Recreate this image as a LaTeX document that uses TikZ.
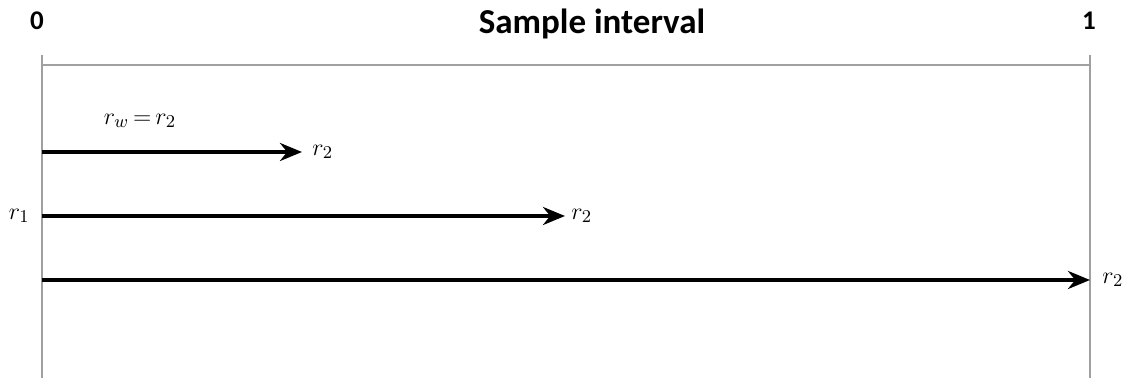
\documentclass[tikz,border=0pt]{standalone}
\usepackage{amsmath}
\usepackage{fontspec}
\setsansfont{Carlito}
\usepackage{tikz}
\usetikzlibrary{positioning, arrows.meta}
\tikzstyle{arrow} = [line width=2pt,-{Stealth[length=11pt,width=9pt]}]
\tikzstyle{frame} = [line width=0.8pt,draw={rgb,255:red,160;green,160;blue,160}]
\tikzstyle{lbl} = [font=\fontsize{13}{15}\selectfont]

\begin{document}
\begin{tikzpicture}[x=0.5pt, y=-0.5pt, every node/.style={inner sep=0pt}]
  \useasboundingbox (0,0) rectangle (1130,378);

  % Interval frame
  \coordinate (lt) at (42,55);
  \coordinate (lb) at (42,378);
  \coordinate (rt) at (1090,55);
  \coordinate (rb) at (1090,378);
  \coordinate (hl) at (42,65);
  \coordinate (hr) at (1090,65);
  \draw[frame] (lt) -- (lb);
  \draw[frame] (rt) -- (rb);
  \draw[frame] (hl) -- (hr);

  % Titles
  \node[font=\sffamily\bfseries\fontsize{13.5}{16}\selectfont] (zero) at (37,21) {0};
  \node[font=\sffamily\bfseries\fontsize{13.5}{16}\selectfont] (one) at (1089,21) {1};
  \node[font=\sffamily\bfseries\fontsize{17.5}{20}\selectfont] (title) at (592,24) {Sample interval};

  % Arrows
  \coordinate (s1) at (42,152);
  \coordinate (e1) at (302,152);
  \coordinate (s2) at (42,216);
  \coordinate (e2) at (565,216);
  \coordinate (s3) at (42,280);
  \coordinate (e3) at (1090,280);
  \draw[arrow] (s1) -- (e1);
  \draw[arrow] (s2) -- (e2);
  \draw[arrow] (s3) -- (e3);

  % Labels
  \node[lbl] (rw) at (140,121) {$r_w\,{=}\,r_2$};
  \node[lbl, right=5pt of e1] (t1) {$r_2$};
  \node[lbl, right=3pt of e2] (t2) {$r_2$};
  \node[lbl, right=6pt of e3] (t3) {$r_2$};
  \node[lbl, left=6pt of s2] (r1) {$r_1$};
\end{tikzpicture}
\end{document}
